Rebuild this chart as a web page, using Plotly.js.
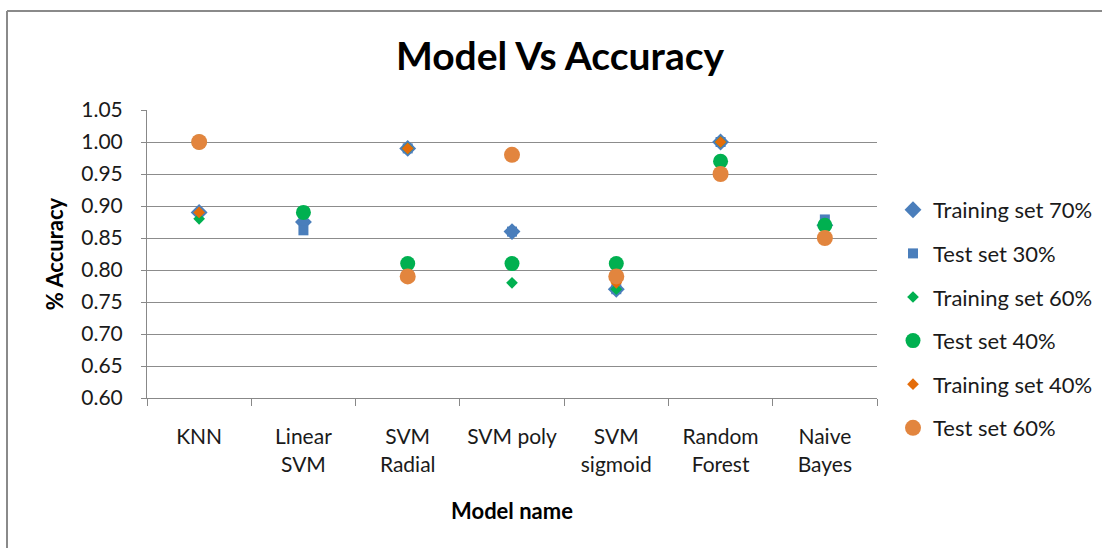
<!DOCTYPE html>
<html>
<head>
<meta charset="utf-8">
<script src="https://cdn.plot.ly/plotly-3.0.1.min.js"></script>
<style>
html,body{margin:0;padding:0;background:#fff;}
#chart{width:1102px;height:548px;}
</style>
</head>
<body>
<div id="chart"></div>
<script>
const categories = ['KNN', 'Linear<br>SVM', 'SVM<br>Radial', 'SVM poly', 'SVM<br>sigmoid', 'Random<br>Forest', 'Naive<br>Bayes'];
const yTicks = [0.60, 0.65, 0.70, 0.75, 0.80, 0.85, 0.90, 0.95, 1.00, 1.05];

const seriesNames = ['Training set 70%', 'Test set 30%', 'Training set 60%', 'Test set 40%', 'Training set 40%', 'Test set 60%'];
const train70 = [0.89, 0.875, 0.99, 0.86, 0.77, 1.00, 0.87];
const test30  = [1.00, 0.862, 0.99, 0.86, 0.77, 1.00, 0.879];
const train60 = [0.88, 0.89, 0.99, 0.78, 0.77, 1.00, 0.87];
const test40  = [1.00, 0.89, 0.81, 0.81, 0.81, 0.97, 0.87];
const train40 = [0.89, null, 0.99, 0.98, 0.78, 1.00, 0.85];
const test60  = [1.00, null, 0.79, 0.98, 0.79, 0.95, 0.85];

const values = [train70, test30, train60, test40, train40, test60];
const symbols = ['diamond', 'square', 'diamond', 'circle', 'diamond', 'circle'];
const sizes = [13, 10, 9, 15, 9, 16];
const colors = ['#4A7EBB', '#4A7EBB', '#00B050', '#00B050', '#E46C0A', '#E2853E'];

const FONT = 'Lato, "Open Sans", sans-serif';

const traces = values.map((v, i) => ({
  type: 'scatter',
  mode: 'markers',
  name: seriesNames[i],
  legendgroup: 'g' + i,
  x: categories,
  y: v,
  marker: {symbol: symbols[i], size: sizes[i], color: colors[i], line: {width: 0}},
  hoverinfo: 'x+y+name'
}));

const layout = {
  width: 1102,
  height: 548,
  paper_bgcolor: '#ffffff',
  plot_bgcolor: '#ffffff',
  margin: {l: 147, r: 225, t: 110, b: 150},
  font: {family: FONT, color: '#000000', size: 21},
  title: {
    text: '<b>Model Vs Accuracy</b>',
    font: {family: FONT, size: 39, color: '#000000'},
    x: (560 - 147) / 730, xref: 'paper', xanchor: 'center',
    y: 1 - 56 / 548, yref: 'container', yanchor: 'middle'
  },
  xaxis: {
    type: 'category',
    categoryorder: 'array',
    categoryarray: categories,
    range: [-0.5, 6.5],
    tickson: 'boundaries',
    ticks: 'outside',
    ticklen: 7,
    tickcolor: '#888888',
    tickwidth: 1,
    showline: true,
    linecolor: '#888888',
    linewidth: 1,
    showgrid: false,
    zeroline: false,
    ticklabelstandoff: 20,
    tickfont: {family: FONT, size: 21, color: '#1a1a1a'},
    title: {text: '<b>Model name</b>', font: {family: FONT, size: 22, color: '#000'}, standoff: 29}
  },
  yaxis: {
    range: [0.60, 1.05],
    tickvals: yTicks,
    ticktext: yTicks.map(t => t.toFixed(2)),
    ticks: 'outside',
    ticklen: 5,
    tickcolor: '#888888',
    showline: true,
    linecolor: '#888888',
    linewidth: 1,
    showgrid: true,
    gridcolor: '#8c8c8c',
    gridwidth: 1,
    zeroline: false,
    ticklabelstandoff: 14,
    tickfont: {family: FONT, size: 21, color: '#1a1a1a'},
    title: {text: '<b>% Accuracy</b>', font: {family: FONT, size: 22, color: '#000'}, standoff: 11}
  },
  legend: {
    xref: 'container', yref: 'container',
    x: 893 / 1102, xanchor: 'left',
    y: 1 - 319 / 548, yanchor: 'middle',
    traceorder: 'grouped',
    tracegroupgap: 12,
    font: {family: FONT, size: 22, color: '#1a1a1a'},
    bgcolor: 'rgba(0,0,0,0)',
    borderwidth: 0
  },
  showlegend: true,
  shapes: [
    {type: 'line', xref: 'paper', yref: 'paper', x0: (7 - 147) / 730, x1: (1110 - 147) / 730, y0: (398 - 11) / 288, y1: (398 - 11) / 288, line: {color: '#8a8a8a', width: 2}},
    {type: 'line', xref: 'paper', yref: 'paper', x0: (7 - 147) / 730, x1: (7 - 147) / 730, y0: (398 - 11) / 288, y1: (398 - 560) / 288, line: {color: '#8a8a8a', width: 2}}
  ]
};

Plotly.newPlot('chart', traces, layout, {displayModeBar: false, staticPlot: true});
</script>
</body>
</html>
